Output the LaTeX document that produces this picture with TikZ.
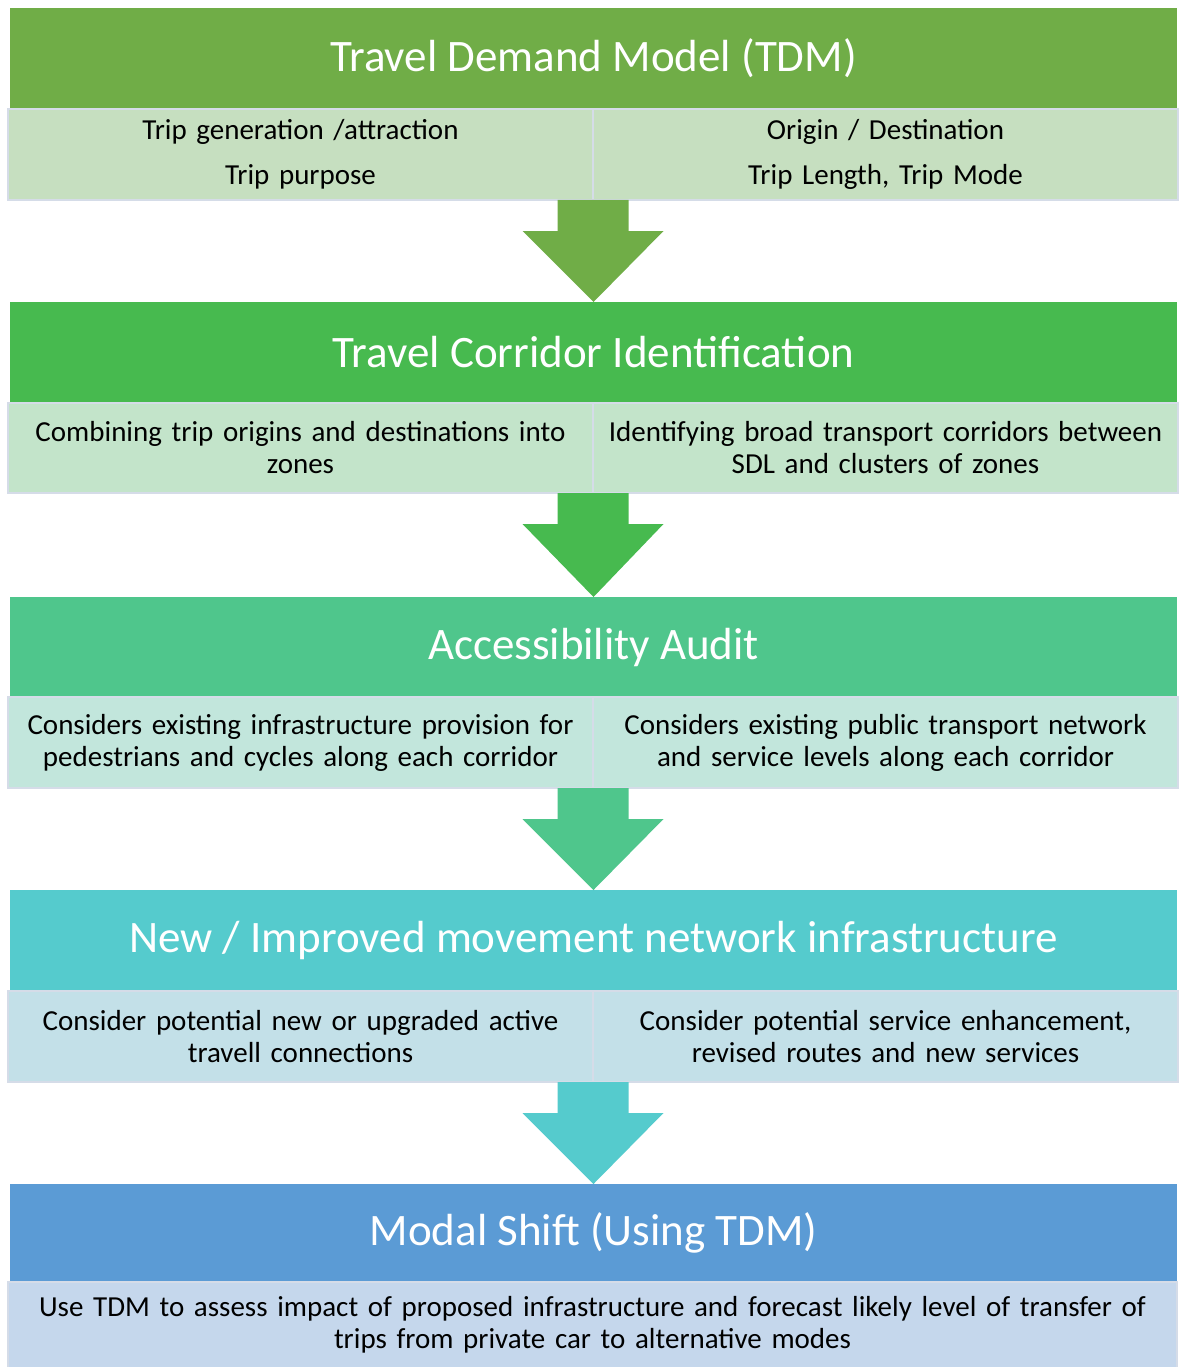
\documentclass[tikz,border=0pt]{standalone}
\usepackage{fontspec}
\setmainfont{Carlito}
\usetikzlibrary{positioning,calc}
\hyphenpenalty=10000
\exhyphenpenalty=10000

\definecolor{tdmhead}{HTML}{70AD47}
\definecolor{tdmsub}{HTML}{C6DFC0}
\definecolor{corrhead}{HTML}{47BA4F}
\definecolor{corrsub}{HTML}{C3E4CA}
\definecolor{audithead}{HTML}{4FC68C}
\definecolor{auditsub}{HTML}{C2E6DC}
\definecolor{newhead}{HTML}{55CBCD}
\definecolor{newsub}{HTML}{C3E0E8}
\definecolor{modalhead}{HTML}{5B9BD5}
\definecolor{modalsub}{HTML}{C5D7EC}
\definecolor{subline}{HTML}{D5DCE8}

% block arrow from the bottom of one band to the top of the next
\newcommand{\bandarrow}[3]{%
\fill[#3] ($(#1)+(-35.5,0)$) -- ($(#1)+(35.5,0)$) -- ($(#1)+(35.5,31)$)
  -- ($(#1)+(70.5,31)$) -- (#2.north) -- ($(#1)+(-70.5,31)$)
  -- ($(#1)+(-35.5,31)$) -- cycle;}

\begin{document}
\begin{tikzpicture}[x=1pt, y=-1pt,
every node/.style={inner sep=0pt, outer sep=0pt},
header/.style={rectangle, anchor=north west, minimum width=1167pt, text=white, font=\fontsize{45}{54}\selectfont},
half/.style={rectangle, anchor=north west, draw=subline, line width=2pt, minimum width=585pt, text width=580pt, align=center, font=\fontsize{29}{32}\selectfont},
full/.style={half, minimum width=1169pt, text width=1160pt}
]
\useasboundingbox (0,0) rectangle (1178,1367);

\node [header, fill=tdmhead, minimum height=101pt] (tdm) at (10,8) {Travel Demand Model (TDM)};
\node [half, fill=tdmsub, minimum height=91pt] (tdmleft) at (8,109) {Trip generation /attraction\\[13pt]Trip purpose};
\node [half, fill=tdmsub, minimum height=91pt] (tdmright) at (593,109) {Origin / Destination\\[13pt]Trip Length, Trip Mode};

\node [header, fill=corrhead, minimum height=101pt] (corridor) at (10,302) {Travel Corridor Identification};
\node [half, fill=corrsub, minimum height=90pt] (corrleft) at (8,403) {Combining trip origins and destinations into\\zones};
\node [half, fill=corrsub, minimum height=90pt] (corrright) at (593,403) {Identifying broad transport corridors between\\SDL and clusters of zones};

\node [header, fill=audithead, minimum height=100pt] (audit) at (10,597) {Accessibility Audit};
\node [half, fill=auditsub, minimum height=91pt] (auditleft) at (8,697) {Considers existing infrastructure provision for\\pedestrians and cycles along each corridor};
\node [half, fill=auditsub, minimum height=91pt] (auditright) at (593,697) {Considers existing public transport network\\and service levels along each corridor};

\node [header, fill=newhead, minimum height=101pt] (newinfra) at (10,890) {New / Improved movement network infrastructure};
\node [half, fill=newsub, minimum height=91pt] (newleft) at (8,991) {Consider potential new or upgraded active\\travell connections};
\node [half, fill=newsub, minimum height=91pt] (newright) at (593,991) {Consider potential service enhancement,\\revised routes and new services};

\node [header, fill=modalhead, minimum height=98pt] (modal) at (10,1184) {Modal Shift (Using TDM)};
\node [full, fill=modalsub, minimum height=86pt] (modalsub) at (8,1282) {Use TDM to assess impact of proposed infrastructure and forecast likely level of transfer of\\trips from private car to alternative modes};

\bandarrow{tdmleft.south east}{corridor}{tdmhead}
\bandarrow{corrleft.south east}{audit}{corrhead}
\bandarrow{auditleft.south east}{newinfra}{audithead}
\bandarrow{newleft.south east}{modal}{newhead}

\end{tikzpicture}
\end{document}
